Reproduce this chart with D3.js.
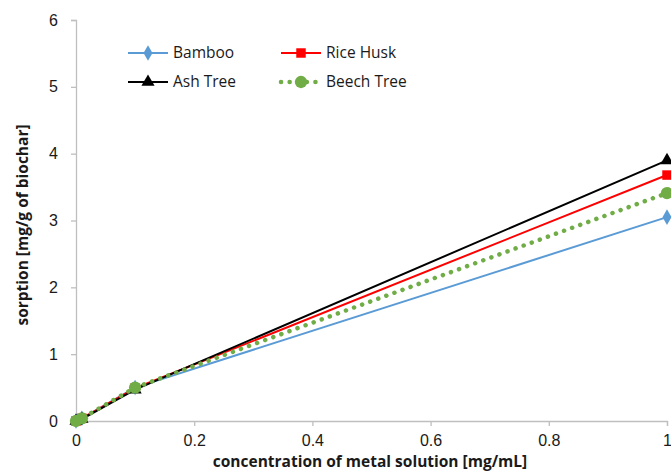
<!DOCTYPE html>
<html>
<head>
<meta charset="utf-8">
<script src="https://cdn.jsdelivr.net/npm/d3@7"></script>
<style>
  html, body { margin: 0; padding: 0; background: #fff; }
  svg { display: block; font-family: "Open Sans", "Liberation Sans", sans-serif; }
</style>
</head>
<body>
<svg id="chart" width="671" height="474"></svg>
<script>
// Metal concentration [mg/mL]
const concentrations = [0, 0.01, 0.1, 1];

// Sorption [mg/g of biochar] per biochar type
const bamboo    = [0, 0.04, 0.50, 3.05];
const riceHusk  = [0, 0.04, 0.49, 3.68];
const ashTree   = [0, 0.03, 0.47, 3.90];
const beechTree = [0, 0.04, 0.50, 3.41];

const xTicks = [0, 0.2, 0.4, 0.6, 0.8, 1];
const yTicks = [0, 1, 2, 3, 4, 5, 6];

const seriesNames = ["Bamboo", "Rice Husk", "Ash Tree", "Beech Tree"];
const seriesValues = [bamboo, riceHusk, ashTree, beechTree];

const styles = {
  "Bamboo":     { color: "#5b9bd5", width: 2,   dash: null,  symbol: d3.symbolDiamond,  size: 70 },
  "Rice Husk":  { color: "#ff0000", width: 2,   dash: null,  symbol: d3.symbolSquare,   size: 90 },
  "Ash Tree":   { color: "#000000", width: 2,   dash: null,  symbol: d3.symbolTriangle, size: 75 },
  "Beech Tree": { color: "#70ad47", width: 4.5, dash: "0.1 8.5", symbol: d3.symbolCircle, size: 120 }
};

const svg = d3.select("#chart");

const x = d3.scaleLinear().domain([0, 1]).range([76, 667]);
const y = d3.scaleLinear().domain([0, 6]).range([421, 20]);

const axisColor = "#bfbfbf";
const textColor = "#1a1a1a";
const fmt = d3.format("~g");

// X axis
const gx = svg.append("g")
  .attr("transform", `translate(0,${y(0)})`)
  .call(d3.axisBottom(x).tickValues(xTicks).tickSize(5).tickPadding(9).tickFormat(fmt));
gx.select(".domain").attr("stroke", axisColor).attr("stroke-width", 1.3);
gx.selectAll(".tick line").attr("stroke", axisColor).attr("stroke-width", 1.3);
gx.selectAll(".tick text").attr("fill", textColor).attr("font-size", 16);

// Y axis
const gy = svg.append("g")
  .attr("transform", `translate(${x(0)},0)`)
  .call(d3.axisLeft(y).tickValues(yTicks).tickSize(5).tickPadding(13).tickFormat(fmt));
gy.select(".domain").attr("stroke", axisColor).attr("stroke-width", 1.3);
gy.selectAll(".tick line").attr("stroke", axisColor).attr("stroke-width", 1.3);
gy.selectAll(".tick text").attr("fill", textColor).attr("font-size", 16);

// Axis titles
svg.append("text")
  .attr("x", 370).attr("y", 467)
  .attr("text-anchor", "middle")
  .attr("font-size", 15.5).attr("font-weight", "bold").attr("fill", textColor)
  .text("concentration of metal solution [mg/mL]");

svg.append("text")
  .attr("transform", `translate(28,225) rotate(-90)`)
  .attr("text-anchor", "middle")
  .attr("font-size", 15.5).attr("font-weight", "bold").attr("fill", textColor)
  .text("sorption [mg/g of biochar]");

// Series lines and markers
const line = d3.line().x((d, i) => x(concentrations[i])).y(d => y(d));

seriesNames.forEach((name, si) => {
  const s = styles[name];
  const vals = seriesValues[si];
  const g = svg.append("g");
  g.append("path")
    .datum(vals)
    .attr("d", line)
    .attr("fill", "none")
    .attr("stroke", s.color)
    .attr("stroke-width", s.width)
    .attr("stroke-linecap", s.dash ? "round" : "butt")
    .attr("stroke-dasharray", s.dash);
  g.selectAll("path.marker")
    .data(vals)
    .join("path")
    .attr("class", "marker")
    .attr("transform", (d, i) => `translate(${x(concentrations[i])},${y(d)})`)
    .attr("d", d3.symbol().type(s.symbol).size(s.size))
    .attr("fill", s.color);
});

// Legend
const legendItems = [
  { name: "Bamboo",     lx: 128, ly: 53 },
  { name: "Rice Husk",  lx: 281, ly: 53 },
  { name: "Ash Tree",   lx: 128, ly: 82 },
  { name: "Beech Tree", lx: 281, ly: 82 }
];
const legend = svg.append("g");
legendItems.forEach(item => {
  const s = styles[item.name];
  const g = legend.append("g").attr("transform", `translate(${item.lx},${item.ly})`);
  g.append("line")
    .attr("x1", 0).attr("x2", 40)
    .attr("stroke", s.color)
    .attr("stroke-width", s.width)
    .attr("stroke-linecap", s.dash ? "round" : "butt")
    .attr("stroke-dasharray", s.dash);
  g.append("path")
    .attr("transform", "translate(20,0)")
    .attr("d", d3.symbol().type(s.symbol).size(s.size))
    .attr("fill", s.color);
  g.append("text")
    .attr("x", 45).attr("y", 0).attr("dy", "0.35em")
    .attr("font-size", 15.5).attr("fill", textColor)
    .text(item.name);
});
</script>
</body>
</html>
